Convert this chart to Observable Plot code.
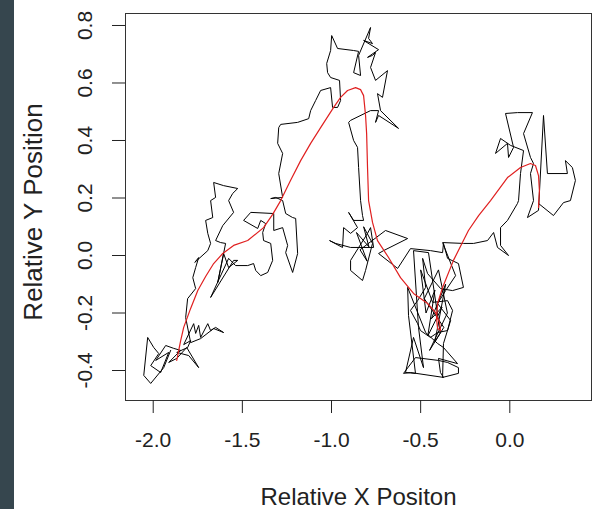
<!DOCTYPE html>
<html><head><meta charset="utf-8">
<script src="https://cdn.jsdelivr.net/npm/d3@7"></script>
<script src="https://cdn.jsdelivr.net/npm/@observablehq/plot@0.6"></script>
<style>
html,body{margin:0;padding:0;background:#fff;}
#wrap{position:relative;width:593px;height:509px;overflow:hidden;background:#fff;}
#strip{position:absolute;left:0;top:0;width:14px;height:509px;background:#36464e;}
#chart{position:absolute;left:0;top:0;}
</style></head><body>
<div id="wrap"><div id="chart"></div><div id="strip"></div></div>
<script>
// Random-walk track (relative positions)
const pathX = [-1.902,-1.941,-2.014,-2.053,-2.031,-1.997,-1.969,-2.014,-1.958,-1.913,-1.986,-1.930,-1.885,-1.846,-1.913,-1.868,-1.812,-1.745,-1.801,-1.868,
-1.807,-1.790,-1.829,-1.773,-1.762,-1.745,-1.734,-1.694,-1.678,-1.650,-1.605,-1.661,-1.734,-1.790,-1.818,-1.807,-1.762,-1.778,-1.762,-1.745,
-1.767,-1.694,-1.678,-1.694,-1.706,-1.666,-1.678,-1.650,-1.661,-1.605,-1.526,-1.554,-1.577,-1.549,-1.610,-1.650,-1.622,-1.594,-1.638,-1.605,
-1.577,-1.526,-1.549,-1.678,-1.577,-1.538,-1.470,-1.437,-1.425,-1.397,-1.358,-1.330,-1.341,-1.381,-1.386,-1.369,-1.397,-1.414,-1.493,-1.453,
-1.324,-1.324,-1.274,-1.246,-1.257,-1.218,-1.190,-1.201,-1.218,-1.257,-1.274,-1.313,-1.341,-1.274,-1.296,-1.274,-1.302,-1.296,-1.285,-1.190,
-1.128,-1.117,-1.089,-1.061,-1.005,-0.994,-0.966,-0.949,-0.955,-1.005,-1.022,-1.027,-1.005,-0.999,-0.966,-0.876,-0.848,-0.876,-0.837,-0.848,
-0.781,-0.792,-0.770,-0.820,-0.736,-0.798,-0.770,-0.753,-0.781,-0.753,-0.686,-0.714,-0.742,-0.725,-0.624,-0.736,-0.753,-0.736,-0.781,-0.893,
-0.904,-0.876,-0.854,-0.848,-0.837,-0.826,-0.820,-0.876,-0.904,-0.854,-0.893,-0.932,-0.938,-1.011,-0.977,-0.893,-0.764,-0.781,-0.798,-0.893,
-0.893,-0.826,-0.809,-0.770,-0.820,-0.790,-0.860,-0.800,-0.840,-0.697,-0.573,-0.708,-0.736,-0.629,-0.557,-0.445,-0.377,-0.372,-0.349,-0.288,
-0.260,-0.321,-0.388,-0.461,-0.489,-0.472,-0.517,-0.557,-0.517,-0.501,-0.445,-0.405,-0.349,-0.321,-0.349,-0.433,
-0.500,-0.470,-0.420,-0.460,-0.380,-0.440,-0.360,-0.420,-0.370,-0.480,-0.400,-0.350,-0.450,-0.390,
-0.456,-0.540,-0.512,-0.484,-0.540,-0.585,-0.529,-0.568,-0.573,
-0.472,-0.405,-0.372,-0.293,-0.400,-0.389,-0.372,-0.557,-0.596,-0.529,-0.400,-0.349,-0.288,-0.288,-0.377,-0.372,-0.332,-0.405,-0.360,-0.304,
-0.377,-0.260,-0.203,-0.125,-0.091,-0.069,-0.007,-0.052,-0.052,-0.013,0.043,0.049,0.060,0.077,0.004,-0.052,-0.080,-0.013,-0.007,0.021,
-0.024,0.043,0.127,0.077,0.116,0.133,0.116,0.133,0.099,0.161,0.189,0.211,0.323,0.312,0.351,0.368,0.340,0.301,0.245,0.161];
const pathY = [-0.330,-0.390,-0.445,-0.417,-0.285,-0.320,-0.341,-0.383,-0.407,-0.337,-0.365,-0.313,-0.323,-0.330,-0.372,-0.358,-0.320,-0.390,-0.348,-0.337,
-0.320,-0.296,-0.310,-0.237,-0.271,-0.243,-0.285,-0.237,-0.261,-0.250,-0.268,-0.254,-0.289,-0.303,-0.216,-0.150,-0.115,-0.077,-0.042,-0.007,
-0.024,0.017,0.042,0.077,0.122,0.132,0.191,0.202,0.254,0.243,0.233,0.216,0.191,0.150,0.104,0.052,0.045,0.042,-0.094,0.007,
-0.042,-0.017,-0.017,-0.146,-0.010,-0.035,-0.035,-0.028,-0.052,-0.070,-0.059,-0.017,0.042,0.052,0.080,0.111,0.122,0.094,0.122,0.150,
0.146,0.087,0.097,0.035,0.010,-0.059,0.007,0.129,0.132,0.146,0.191,0.202,0.198,0.202,0.285,0.355,0.390,0.445,0.456,0.463,
0.476,0.504,0.539,0.574,0.584,0.515,0.515,0.539,0.609,0.619,0.636,0.668,0.713,0.765,0.720,0.713,0.710,0.636,0.626,0.696,
0.793,0.755,0.737,0.748,0.716,0.689,0.696,0.706,0.654,0.609,0.643,0.550,0.563,0.504,0.442,0.487,0.463,0.504,0.504,0.470,
0.463,0.400,0.376,0.306,0.191,0.139,0.122,0.122,0.150,0.097,0.077,0.097,0.028,0.052,0.042,0.028,0.028,0.097,0.077,-0.017,
-0.052,-0.087,-0.052,0.042,0.100,0.030,0.080,-0.020,0.020,0.087,0.059,0.017,0.007,-0.045,0.024,0.017,0.010,0.042,-0.010,-0.028,
-0.111,-0.122,-0.115,-0.063,-0.010,-0.111,-0.157,-0.191,-0.237,-0.261,-0.285,-0.268,-0.261,-0.191,-0.157,-0.163,
-0.050,-0.200,-0.120,-0.280,-0.180,-0.220,-0.100,-0.300,-0.250,-0.150,-0.050,-0.200,-0.330,-0.270,
0.010,0.017,-0.250,-0.390,-0.285,-0.407,-0.410,-0.209,-0.111,
-0.268,-0.306,-0.320,-0.376,-0.358,-0.407,-0.424,-0.407,-0.410,-0.355,-0.365,-0.372,-0.390,-0.410,-0.424,-0.306,-0.226,-0.167,-0.122,-0.070,
0.045,0.042,0.042,0.052,0.080,0.028,0.000,0.035,0.097,0.122,0.181,0.191,0.285,0.365,0.383,0.407,0.355,0.390,0.341,0.376,
0.494,0.497,0.497,0.424,0.341,0.320,0.285,0.191,0.132,0.157,0.487,0.285,0.285,0.330,0.306,0.261,0.191,0.184,0.139,0.181];

// Smoothed fit (red)
const fitX = [-1.868,-1.846,-1.829,-1.790,-1.750,-1.706,-1.661,-1.610,-1.549,-1.470,-1.381,-1.330,-1.285,-1.230,-1.173,-1.117,-1.061,-0.988,-0.949,-0.910,
-0.865,-0.837,-0.820,-0.809,-0.803,-0.798,-0.792,-0.770,-0.742,-0.680,-0.613,-0.540,-0.461,-0.417,-0.394,-0.389,-0.405,-0.411,-0.405,-0.377,
-0.316,-0.232,-0.175,-0.108,-0.013,0.060,0.116,0.144,0.161,0.166,0.161];
const fitY = [-0.365,-0.296,-0.250,-0.184,-0.122,-0.073,-0.028,0.007,0.035,0.052,0.097,0.143,0.191,0.261,0.330,0.390,0.445,0.515,0.550,0.574,
0.584,0.577,0.556,0.487,0.424,0.306,0.191,0.115,0.052,-0.007,-0.077,-0.132,-0.167,-0.198,-0.233,-0.261,-0.254,-0.219,-0.167,-0.111,
-0.017,0.087,0.139,0.191,0.271,0.306,0.320,0.313,0.278,0.226,0.167];

const xTicks = [-2.0, -1.5, -1.0, -0.5, 0.0];
const yTicks = [-0.4, -0.2, 0.0, 0.2, 0.4, 0.6, 0.8];
const xTitle = "Relative X Positon";
const yTitle = "Relative Y Position";

const path = pathX.map((x, i) => ({x, y: pathY[i]}));
const fit = fitX.map((x, i) => ({x, y: fitY[i]}));
const fmt = d => d.toFixed(1);

const chart = Plot.plot({
  width: 593, height: 509,
  marginLeft: 125, marginRight: 2, marginTop: 13, marginBottom: 109,
  x: {domain: [-2.1554, 0.4582]},
  y: {domain: [-0.5043, 0.8417]},
  style: {fontFamily: "'Liberation Sans', Arial, sans-serif", background: "transparent", color: "#222"},
  marks: [
    Plot.line(path, {x: "x", y: "y", stroke: "#000", strokeWidth: 1}),
    Plot.line(fit, {x: "x", y: "y", stroke: "#e02020", strokeWidth: 1.2}),
    Plot.frame({stroke: "#333"}),
    Plot.axisX(xTicks, {anchor: "bottom", tickSize: 13, tickPadding: 19, fontSize: 21, tickFormat: fmt, label: null, color: "#222"}),
    Plot.axisY(yTicks, {anchor: "left", tickSize: 13, tickFormat: () => "", label: null, color: "#222"}),
    Plot.text(yTicks, {y: d => d, text: fmt, frameAnchor: "left", dx: -40, rotate: -90, fontSize: 21, fill: "#222", textAnchor: "middle", lineAnchor: "middle"}),
    Plot.text([xTitle], {text: d => d, frameAnchor: "bottom", dy: 97, fontSize: 24, fill: "#222", textAnchor: "middle", lineAnchor: "middle"}),
    Plot.text([yTitle], {text: d => d, frameAnchor: "left", dx: -92, dy: 5, rotate: -90, fontSize: 26, fill: "#222", textAnchor: "middle", lineAnchor: "middle"})
  ]
});
document.getElementById("chart").appendChild(chart);
</script>
</body></html>
